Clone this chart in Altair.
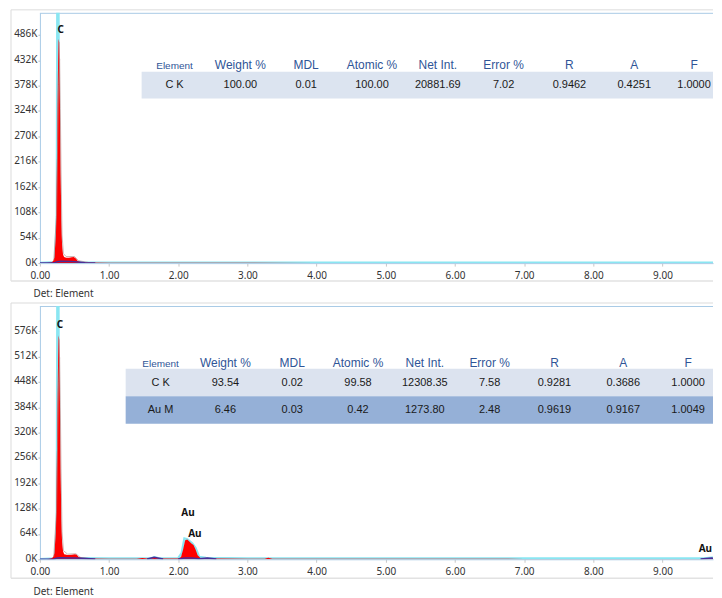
import altair as alt
import pandas as pd

# ---------------- data ----------------
# Panel 1 spectrum (keV, counts)
s1_e = [0.00, 0.10, 0.16, 0.19, 0.21, 0.23, 0.245, 0.26, 0.27, 0.28, 0.29, 0.30, 0.31, 0.32, 0.335, 0.35,
        0.38, 0.42, 0.46, 0.49, 0.52, 0.55, 0.60, 0.70, 1.00, 1.50, 2.00, 3.00, 4.00, 5.00, 6.00, 7.00,
        8.00, 9.00, 9.84]
s1_c = [0, 200, 1500, 4000, 12000, 60000, 200000, 400000, 478000, 470000, 340000, 190000, 90000, 40000,
        18000, 13000, 11500, 11500, 12500, 13000, 10000, 4000, 1800, 1200, 900, 800, 700, 600, 500, 500,
        400, 400, 300, 300, 300]
g1_e = [0.20, 0.24, 0.27, 0.285, 0.295, 0.305, 0.32, 0.34, 0.38, 0.50, 0.56, 0.70]
g1_c = [5000, 100000, 380000, 435000, 330000, 200000, 60000, 20000, 14000, 14000, 5000, 1500]
bg1_e = [0.0, 0.2, 0.25, 0.3, 0.45, 0.55, 0.65, 0.8]
bg1_c = [0, 500, 3000, 4000, 3500, 2500, 800, 300]
bg1_s = [1, 1, 1, 1, 1, 1, 1, 1]
fit1_e = [0.0, 0.22, 0.245, 0.255, 0.265, 0.275, 0.30, 0.6, 1.0, 9.84]
fit1_c = [0, 2000, 100000, 700000, 700000, 100000, 3000, 1500, 1000, 900]

# Panel 2 spectrum
s2_e = [0.00, 0.10, 0.16, 0.19, 0.21, 0.23, 0.245, 0.26, 0.27, 0.28, 0.29, 0.30, 0.31, 0.32, 0.335, 0.35,
        0.40, 0.46, 0.50, 0.53, 0.56, 0.62, 0.70, 1.00, 1.40, 1.48, 1.55, 1.62, 1.66, 1.70, 1.80, 2.00,
        2.04, 2.07, 2.10, 2.13, 2.16, 2.19, 2.22, 2.25, 2.28, 2.32, 2.38, 2.43, 2.48, 2.60, 3.00, 3.25,
        3.30, 3.36, 3.50, 4.00, 5.00, 6.00, 7.00, 8.00, 9.00, 9.60, 9.71, 9.80, 9.84]
s2_c = [0, 300, 2000, 5000, 15000, 70000, 250000, 470000, 566000, 555000, 400000, 220000, 100000, 45000,
        20000, 13000, 11000, 11500, 13000, 12000, 6000, 2500, 1800, 1500, 1500, 3000, 1800, 2500, 3500,
        2500, 1800, 2000, 6000, 25000, 48000, 50000, 45000, 40000, 36000, 25000, 10000, 3500, 2500, 3000,
        2000, 1800, 1500, 1500, 4000, 1500, 1400, 1300, 1200, 1100, 1000, 1000, 900, 900, 1500, 900, 900]
g2_e = [0.20, 0.24, 0.27, 0.285, 0.295, 0.305, 0.32, 0.34, 0.40, 0.52, 0.58, 0.70]
g2_c = [6000, 120000, 450000, 510000, 390000, 230000, 70000, 22000, 13000, 14000, 5000, 2000]
bg2_e = [0, 0.2, 0.25, 0.3, 0.5, 0.6, 0.8, 1.55, 1.65, 1.78, 2.0, 2.1, 2.2, 2.3, 2.42, 2.55,
         9.55, 9.71, 9.84]
bg2_c = [0, 500, 3000, 4000, 3500, 2500, 600, 600, 5000, 700, 700, 3000, 3000, 1200, 3000, 700,
         500, 3000, 1000]
bg2_s = [1, 1, 1, 1, 1, 1, 1, 2, 2, 2, 3, 3, 3, 3, 3, 3, 4, 4, 4]
fit2_e = [0.0, 0.22, 0.245, 0.255, 0.265, 0.275, 0.30, 0.6, 1.0, 1.6, 1.66, 1.72, 2.0, 2.05, 2.09, 2.13,
          2.2, 2.25, 2.3, 2.4, 3.0, 9.6, 9.71, 9.84]
fit2_c = [0, 2000, 100000, 800000, 800000, 100000, 3000, 2500, 2000, 2000, 5000, 2000, 2500, 15000,
          52000, 50000, 40000, 28000, 6000, 3000, 2000, 1800, 4000, 2000]

# peak labels
lab1_t = ["C"]
lab1_e = [0.30]
lab1_c = [497000]
lab2_t = ["C", "Au", "Au", "Au"]
lab2_e = [0.29, 2.14, 2.24, 9.62]
lab2_c = [592000, 118000, 63000, 25000]

# axis ticks
x_ticks = [0, 1, 2, 3, 4, 5, 6, 7, 8, 9]
y1_ticks = [0, 54000, 108000, 162000, 216000, 270000, 324000, 378000, 432000, 486000]
y2_ticks = [0, 64000, 128000, 192000, 256000, 320000, 384000, 448000, 512000, 576000]

# quantification tables
headers = ["Element", "Weight %", "MDL", "Atomic %", "Net Int.", "Error %", "R", "A", "F"]
t1_rows = [["C  K", "100.00", "0.01", "100.00", "20881.69", "7.02", "0.9462", "0.4251", "1.0000"]]
t2_rows = [["C  K", "93.54", "0.02", "99.58", "12308.35", "7.58", "0.9281", "0.3686", "1.0000"],
           ["Au M", "6.46", "0.03", "0.42", "1273.80", "2.48", "0.9619", "0.9167", "1.0049"]]

# ---------------- layout ----------------
W = 675
XMAX = 9.73
H1, H2 = 251, 254
Y1MAX, Y2MAX = 533000, 640000
col1_px = [135, 201, 267, 333, 399, 465, 531, 596, 656]
col2_px = [121, 186, 253, 319, 386, 451, 516, 585, 650]

FONT = "Noto Sans"
TFONT = "Liberation Sans"
HEAD_COL = "#2f5597"
BORDER = "#a9cbe6"
FRAME = "#dcdcdc"
ONE = pd.DataFrame({"k": [0]})


def panel(se, sc, ge, gc, be, bc, bs, fe, fc, lt, le, lc, yticks, ymax, H,
          rows, cols, head_y, row_y0, row_h, band_x0, band_cols, title_y, frame_b):
    xs = alt.Scale(domain=[0, XMAX], nice=False, zero=False)
    ys = alt.Scale(domain=[0, ymax], nice=False, zero=True)
    xaxis = alt.Axis(
        values=x_ticks, format=".2f", title="Det: Element", grid=False, labelFlush=False,
        tickSize=3, tickColor="#c8c8c8", domainColor=BORDER, labelPadding=4,
        labelFontSize=10, labelColor="#333333", titleFontSize=10, titleFontWeight="normal",
        titleColor="#333333", titleAnchor="start", titleAlign="left", titleX=-7,
        titleY=title_y, titleBaseline="middle")
    yaxis = alt.Axis(
        values=yticks, labelExpr="format(datum.value/1000, 'd') + 'K'", title=None,
        grid=False, tickSize=2, tickColor="#bdbdbd", domainColor=BORDER, labelPadding=1,
        labelFontSize=10, labelColor="#333333", labelFlush=False, labelOffset=-1)
    X = alt.X("E:Q", scale=xs, axis=xaxis)
    Y = alt.Y("c:Q", scale=ys, axis=yaxis)

    spec = pd.DataFrame({"E": se, "c": sc})
    gray = pd.DataFrame({"E": ge, "c": gc})
    bg = pd.DataFrame({"E": be, "c": bc, "s": bs})
    fit = pd.DataFrame({"E": fe, "c": fc})
    labs = pd.DataFrame({"E": le, "c": lc, "t": lt})

    data_layers = [
        alt.Chart(fit).mark_line(color="#8ae6f2", strokeWidth=2.5, clip=True).encode(x=X, y=Y),
        alt.Chart(spec).mark_area(color="#ff0000", clip=True).encode(x=X, y=Y),
        alt.Chart(gray).mark_line(color="#b08c8c", strokeWidth=0.8, opacity=0.8,
                                  clip=True).encode(x=X, y=Y),
        alt.Chart(bg).mark_line(color="#4a2d96", strokeWidth=1.5, clip=True).encode(
            x=X, y=Y, detail="s:N"),
        alt.Chart(labs).mark_text(font=FONT, fontSize=10, fontWeight="bold",
                                  color="#111111", clip=True).encode(x=X, y=Y, text="t:N"),
    ]
    spectrum = alt.layer(*data_layers)

    # decorations and table on a pixel grid (independent scales)
    PX = alt.X("px:Q", scale=alt.Scale(domain=[0, W], nice=False, zero=False), axis=None)
    PY = alt.Y("py:Q", scale=alt.Scale(domain=[H, 0], nice=False, zero=False), axis=None)
    deco = []
    deco.append(alt.Chart(ONE).mark_rule(color=FRAME).encode(
        x=alt.value(-29), y=alt.value(-3), y2=alt.value(H + frame_b)))
    deco.append(alt.Chart(ONE).mark_rule(color=FRAME).encode(
        x=alt.value(-29), x2=alt.value(W), y=alt.value(-3)))
    deco.append(alt.Chart(ONE).mark_rule(color="#e2e2e2", strokeWidth=1.5).encode(
        x=alt.value(-29), x2=alt.value(W), y=alt.value(H + frame_b)))
    deco.append(alt.Chart(ONE).mark_rule(color=BORDER).encode(
        x=alt.value(0), x2=alt.value(W), y=alt.value(0.5)))
    for i, colr in enumerate(band_cols):
        deco.append(alt.Chart(ONE).mark_rect(color=colr).encode(
            x=alt.value(band_x0), x2=alt.value(W),
            y=alt.value(row_y0 + i * row_h), y2=alt.value(row_y0 + (i + 1) * row_h)))
    hdf = pd.DataFrame({"t": headers[1:], "px": cols[1:], "py": [head_y] * (len(headers) - 1)})
    deco.append(alt.Chart(hdf).mark_text(font=TFONT, fontSize=12, color=HEAD_COL, clip=True,
                                         baseline="middle").encode(x=PX, y=PY, text="t:N"))
    edf = pd.DataFrame({"t": headers[:1], "px": cols[:1], "py": [head_y + 1]})
    deco.append(alt.Chart(edf).mark_text(font=TFONT, fontSize=10, color=HEAD_COL,
                                         baseline="middle").encode(x=PX, y=PY, text="t:N"))
    recs = []
    for r, row in enumerate(rows):
        for k, v in enumerate(row):
            recs.append({"t": v, "px": cols[k], "py": row_y0 + r * row_h + row_h / 2})
    cdf = pd.DataFrame(recs)
    deco.append(alt.Chart(cdf).mark_text(font=TFONT, fontSize=11, color="#1a1a1a", clip=True,
                                         baseline="middle").encode(x=PX, y=PY, text="t:N"))
    table = alt.layer(*deco)

    return alt.layer(table, spectrum).resolve_scale(x="independent", y="independent").properties(
        width=W, height=H)


p1 = panel(s1_e, s1_c, g1_e, g1_c, bg1_e, bg1_c, bg1_s, fit1_e, fit1_c, lab1_t, lab1_e, lab1_c,
           y1_ticks, Y1MAX, H1, t1_rows, col1_px, 52, 59, 27, 102, ["#dce4f0"], 30, 18)
p2 = panel(s2_e, s2_c, g2_e, g2_c, bg2_e, bg2_c, bg2_s, fit2_e, fit2_c, lab2_t, lab2_e, lab2_c,
           y2_ticks, Y2MAX, H2, t2_rows, col2_px, 57, 63, 27.5, 86, ["#dce3ef", "#95b0d7"], 32, 19)

chart = alt.vconcat(p1, p2, spacing=4).properties(
    padding={"left": 2, "top": 0, "right": 0, "bottom": 0}
).configure_view(stroke=None).configure_axis(labelFont=FONT, titleFont=FONT)

chart.save("out.html", embed_options={"renderer": "svg", "actions": False})
